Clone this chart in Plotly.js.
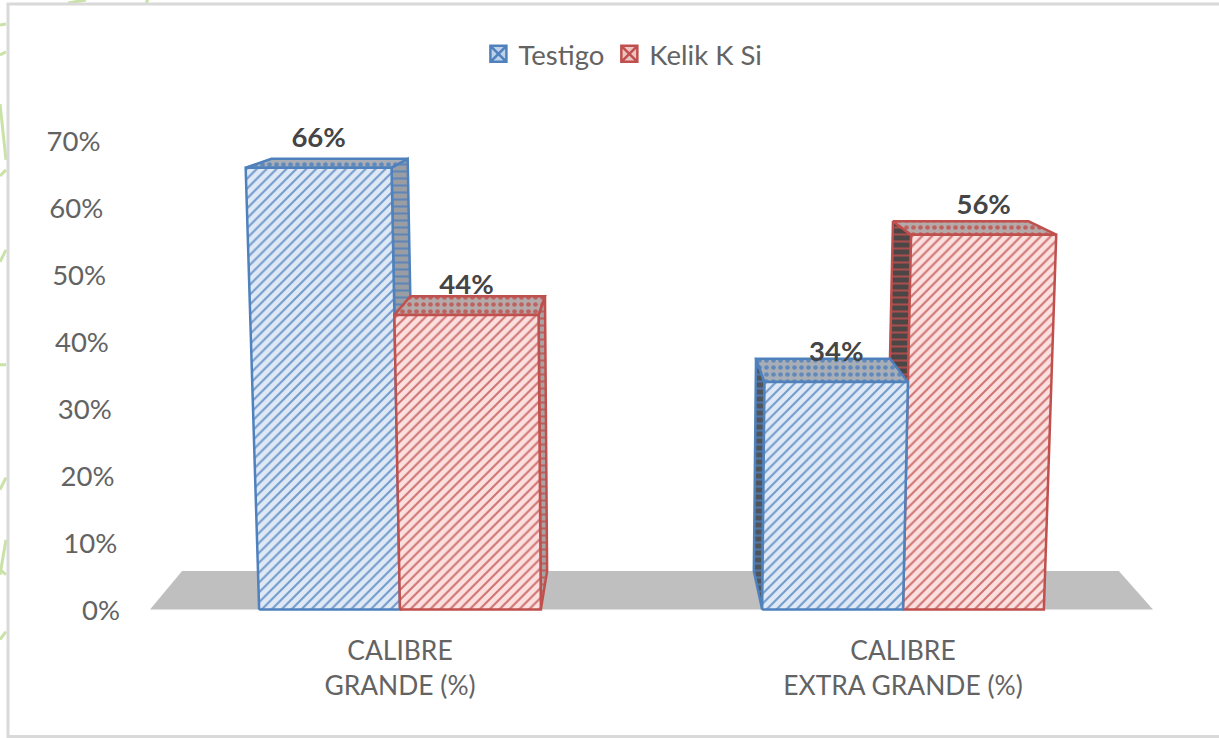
<!DOCTYPE html>
<html><head><meta charset="utf-8">
<script src="https://cdn.plot.ly/plotly-3.0.1.min.js"></script>
<style>html,body{margin:0;padding:0;background:#fff}</style></head>
<body><div id="chart" style="width:1219px;height:738px"></div>
<script>
const categories = ['CALIBRE<br>GRANDE (%)', 'CALIBRE<br>EXTRA GRANDE (%)'];
const testigo = [66, 34];
const kelikKSi = [44, 56];
const seriesNames = ['Testigo', 'Kelik K Si'];
const yTickValues = [0, 10, 20, 30, 40, 50, 60, 70];
const yTickLabels = ['0%', '10%', '20%', '30%', '40%', '50%', '60%', '70%'];

// Perspective of the 3-D column chart, in axis units (1 x unit = one category, 1 y unit = 1 %)
const PX_X = 503, PX_Y = 6.7, X0 = 400, Y0 = 610, Y_BELOW = 2;
const VANISH = 0.469, LEAN = 0.000543, SHRINK = 0.066, BAR = 0.28;
function project(u, v, back) {
  const xf = u + v * LEAN * (u - VANISH);
  return [xf - back * SHRINK * (xf - VANISH), v + back * (5.75 - 0.067 * v)];
}
function poly(points) {
  const p = points.map(a => project(a[0], a[1], a[2]));
  p.push(p[0]);
  return { x: p.map(a => a[0]), y: p.map(a => a[1]) };
}
const hue = {
  blue: { line: '#4f81bd', bg: '#dfe9f6', top: '#a9aeb6', side: '#9a9da3', dark: '#50555c', swatch: '#bcd2ea' },
  red: { line: '#c0504d', bg: '#fbe0df', top: '#b5aaaa', side: '#a9a3a3', dark: '#4d4646', swatch: '#ecc4c3' }
};
function face(pts, line, bg, fg, shape, size, solidity, opacity) {
  return Object.assign({}, poly(pts), {
    type: 'scatter', mode: 'lines', fill: 'toself', hoverinfo: 'skip', showlegend: false,
    line: { color: line, width: 2.5 }, fillcolor: bg,
    fillpattern: { shape: shape, bgcolor: bg, fgcolor: fg, fgopacity: opacity, size: size, solidity: solidity }
  });
}
function column(cat, lo, v, c) {
  const l = cat + lo, r = l + BAR, out = [];
  const leftVisible = l > VANISH;
  const sideEdge = leftVisible ? l : r;
  out.push(face([[sideEdge, 0, 0], [sideEdge, v, 0], [sideEdge, v, 1], [sideEdge, 0, 1]],
    c.line, leftVisible ? c.dark : c.side, c.line, '-', 7, 0.3, 0.8));
  out.push(face([[l, v, 0], [r, v, 0], [r, v, 1], [l, v, 1]], c.line, c.top, c.line, '.', 7, 0.35, 0.8));
  out.push(face([[l, 0, 0], [r, 0, 0], [r, v, 0], [l, v, 0]], c.line, c.bg, c.line, '/', 7, 0.3, 0.75));
  return out;
}
function legendKey(name, c) {
  return { type: 'scatter', mode: 'markers', x: [null], y: [null], name: name, showlegend: true, hoverinfo: 'skip',
    marker: { symbol: 'square-x', size: 16, color: c.swatch, line: { color: c.line, width: 2.5 } } };
}
const floorTrace = Object.assign({}, poly([[-0.497, 0, 0], [1.497, 0, 0], [1.497, 0, 1], [-0.497, 0, 1]]), {
  type: 'scatter', mode: 'lines', fill: 'toself', fillcolor: '#bfbfbf', line: { width: 0, color: '#bfbfbf' },
  hoverinfo: 'skip', showlegend: false
});
const traces = [legendKey(seriesNames[0], hue.blue), legendKey(seriesNames[1], hue.red), floorTrace]
  .concat(column(0, -BAR, testigo[0], hue.blue))
  .concat(column(0, 0, kelikKSi[0], hue.red))
  .concat(column(1, 0, kelikKSi[1], hue.red))
  .concat(column(1, -BAR, testigo[1], hue.blue));

const lx = [], ly = [], lt = [];
[[testigo, -BAR], [kelikKSi, 0]].forEach(([vals, lo]) => vals.forEach((v, i) => {
  const a = project(i + lo, v, 0), b = project(i + lo + BAR, v, 0);
  lx.push((a[0] + b[0]) / 2); ly.push(v + 4.1); lt.push(v + '%');
}));
traces.push({ type: 'scatter', mode: 'text', x: lx, y: ly, text: lt, textposition: 'middle center', cliponaxis: false,
  textfont: { family: 'Lato, sans-serif', size: 27.5, color: '#454545', weight: 700 }, hoverinfo: 'skip', showlegend: false });
const tickPos = yTickValues.map(v => project(-0.5567, v - 0.5, 0));
traces.push({ type: 'scatter', mode: 'text', x: tickPos.map(p => p[0]), y: tickPos.map(p => p[1]), text: yTickLabels, cliponaxis: false,
  textposition: 'middle left', textfont: { family: 'Lato, sans-serif', size: 27.5, color: '#636363' }, hoverinfo: 'skip', showlegend: false });

const PH = Y0 + Y_BELOW * PX_Y;
const green = '#c9e2a6';
const fragments = [[68,3,86,0],[146,3,148,0],[0,25,6,24],[0,55,6,52],[0,104,6,160],[0,176,6,170],[0,262,6,250],[0,365,6,365],[0,490,6,478],[6,540,0,575],[0,570,6,575],[0,640,6,632]];
const layout = {
  width: 1219, height: 738, margin: { l: 0, r: 0, t: 0, b: 738 - PH, pad: 0 },
  paper_bgcolor: '#ffffff', plot_bgcolor: 'rgba(0,0,0,0)', showlegend: true,
  legend: { orientation: 'h', x: 0.511, xanchor: 'center', y: 1 - 54 / PH, yanchor: 'middle',
    font: { family: 'Lato, sans-serif', size: 27.5, color: '#636363' }, itemwidth: 30, traceorder: 'normal', bgcolor: 'rgba(0,0,0,0)' },
  xaxis: { range: [-X0 / PX_X, (1219 - X0) / PX_X], tickvals: [0, 1], ticktext: categories, showgrid: false, zeroline: false,
    showline: false, ticks: '', ticklabelstandoff: 10, tickfont: { family: 'Lato, sans-serif', size: 26.4, color: '#636363' }, fixedrange: true },
  yaxis: { range: [-Y_BELOW, Y0 / PX_Y], showgrid: false, zeroline: false, showline: false, showticklabels: false, ticks: '', fixedrange: true },
  shapes: fragments.map(f => ({ type: 'line', xref: 'paper', yref: 'paper', x0: f[0] / 1219, x1: f[2] / 1219, y0: 1 - f[1] / PH, y1: 1 - f[3] / PH,
      line: { color: green, width: 3 }, layer: 'below' })).concat([
    { type: 'rect', xref: 'paper', yref: 'paper', x0: 8 / 1219, x1: 1225 / 1219, y0: 1 - 737 / PH, y1: 1 - 4 / PH,
      line: { color: '#d9d9d9', width: 3 }, fillcolor: 'rgba(0,0,0,0)', layer: 'below' }
  ])
};
Plotly.newPlot('chart', traces, layout, { displayModeBar: false, staticPlot: true });
</script></body></html>
